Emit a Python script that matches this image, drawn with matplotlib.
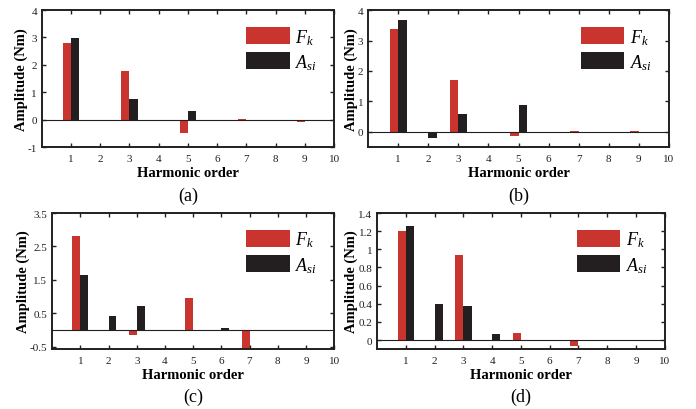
import matplotlib
matplotlib.use("Agg")
import matplotlib.pyplot as plt
import numpy as np

plt.rcParams["font.family"] = ["Liberation Serif", "DejaVu Serif"]
plt.rcParams["mathtext.fontset"] = "custom"
plt.rcParams["mathtext.rm"] = "Liberation Serif"
plt.rcParams["mathtext.it"] = "Liberation Serif:italic"

RED = "#c9342e"
BLACK = "#231f20"

orders = np.arange(1, 10)

# amplitudes (Nm) for harmonic orders 1..9
fk_a = [2.78, 0, 1.78, 0, -0.50, 0, 0.02, 0, -0.08]
asi_a = [2.99, 0, 0.76, 0, 0.30, 0, -0.02, 0, 0]

fk_b = [3.38, 0, 1.71, 0, -0.15, 0, 0.04, 0, 0.01]
asi_b = [3.69, -0.21, 0.57, 0, 0.89, 0, 0, 0, 0]

fk_c = [2.82, 0, -0.14, 0, 0.95, 0, -0.70, 0, 0.01]
asi_c = [1.64, 0.43, 0.72, 0, 0, 0.05, 0, 0, 0]

fk_d = [1.205, 0, 0.94, 0, 0.077, 0, -0.06, 0, -0.015]
asi_d = [1.257, 0.40, 0.375, 0.066, 0, 0.005, 0, 0, 0]

panels = [
    ("(a)", fk_a, asi_a, (-1, 4), [-1, 0, 1, 2, 3, 4], ["-1", "0", "1", "2", "3", "4"],
     [0.060, 0.639, 0.420, 0.334]),
    ("(b)", fk_b, asi_b, (-0.5, 4), [0, 1, 2, 3, 4], ["0", "1", "2", "3", "4"],
     [0.529, 0.639, 0.432, 0.334]),
    ("(c)", fk_c, asi_c, (-0.57, 3.5), [-0.5, 0.5, 1.5, 2.5, 3.5], ["-0.5", "0.5", "1.5", "2.5", "3.5"],
     [0.075, 0.146, 0.405, 0.332]),
    ("(d)", fk_d, asi_d, (-0.1, 1.4), [0, 0.2, 0.4, 0.6, 0.8, 1.0, 1.2, 1.4],
     ["0", "0.2", "0.4", "0.6", "0.8", "1", "1.2", "1.4"],
     [0.542, 0.146, 0.413, 0.332]),
]

fig = plt.figure(figsize=(6.96, 4.10), dpi=100)

w = 0.28
for label, fk, asi, ylim, yt, ytl, rect in panels:
    ax = fig.add_axes(rect)
    ax.bar(orders - w / 2, fk, width=w, color=RED, label="$F_k$")
    ax.bar(orders + w / 2, asi, width=w, color=BLACK, label="$A_{si}$")
    ax.axhline(0, color=BLACK, lw=0.8)
    ax.set_xlim(0, 10)
    ax.set_ylim(*ylim)
    ax.set_xticks(range(1, 11))
    ax.set_yticks(yt)
    ax.set_yticklabels(ytl)
    ax.tick_params(axis="x", pad=5)
    ax.tick_params(direction="in", top=True, right=True, labelsize=8, length=3,
                   width=1, colors=BLACK)
    for s in ax.spines.values():
        s.set_linewidth(1.4)
        s.set_color(BLACK)
    ax.set_xlabel("Harmonic order", fontsize=10.5, fontweight="bold", labelpad=2)
    ax.set_ylabel("Amplitude (Nm)", fontsize=10.5, fontweight="bold", labelpad=0)
    ax.legend(loc="upper right", frameon=False, fontsize=13, handlelength=2.4,
              handleheight=1.1, labelspacing=0.3, handletextpad=0.3,
              borderaxespad=0.3, bbox_to_anchor=(0.985, 0.97))
    ax.text(0.5, -0.35, label, transform=ax.transAxes, ha="center", va="center", fontsize=13)

fig.savefig("out.png", dpi=100)
